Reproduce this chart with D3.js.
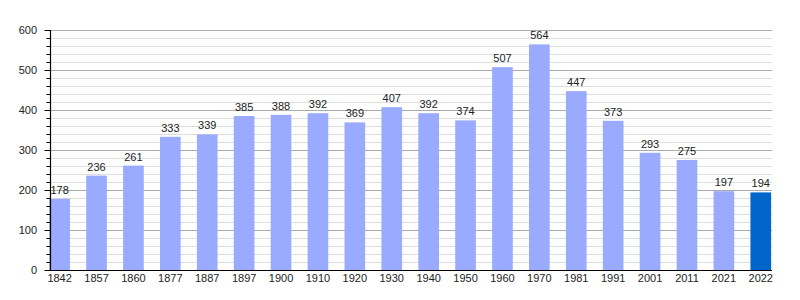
<!DOCTYPE html>
<html>
<head>
<meta charset="utf-8">
<script src="https://cdn.jsdelivr.net/npm/d3@7"></script>
<style>
  body { margin: 0; background: #fff; }
  text { font-family: "Liberation Sans", Arial, sans-serif; font-size: 11px; fill: #222; }
</style>
</head>
<body>
<svg id="chart" width="800" height="300"></svg>
<script>
// data
var years = ["1842","1857","1860","1877","1887","1897","1900","1910","1920","1930",
             "1940","1950","1960","1970","1981","1991","2001","2011","2021","2022"];
var population = [178,236,261,333,339,385,388,392,369,407,
                  392,374,507,564,447,373,293,275,197,194];
var yTicks = [0,100,200,300,400,500,600];

var svg = d3.select("#chart");
// plot box (window.top is reserved, so use own names)
var plotLeft = 50, plotRight = 772, plotTop = 30, plotBottom = 270;

var x = d3.scaleBand()
  .domain(years)
  .range([49.3, 771.1])
  .paddingInner(0.44)
  .paddingOuter(0);

var y = d3.scaleLinear().domain([0, 600]).range([plotBottom, plotTop]);

// --- grid ---
var minor = d3.range(0, 601, 20);
svg.append("g").selectAll("line")
  .data(minor.filter(function(d){ return d % 100 != 0; }))
  .enter().append("line")
  .attr("x1", plotLeft).attr("x2", plotRight)
  .attr("y1", function(d){ return Math.round(y(d)) + 0.5; })
  .attr("y2", function(d){ return Math.round(y(d)) + 0.5; })
  .style("stroke", "#dddddd");

svg.append("g").selectAll("line")
  .data(yTicks.slice(1))
  .enter().append("line")
  .attr("x1", plotLeft).attr("x2", plotRight)
  .attr("y1", function(d){ return Math.round(y(d)) + 0.5; })
  .attr("y2", function(d){ return Math.round(y(d)) + 0.5; })
  .style("stroke", "#aaaaaa");

// --- bars ---
svg.append("g").selectAll("rect")
  .data(population)
  .enter().append("rect")
  .attr("x", function(d, i){ return x(years[i]); })
  .attr("width", x.bandwidth())
  .attr("y", function(d){ return y(d); })
  .attr("height", function(d){ return plotBottom - y(d); })
  .attr("fill", function(d, i){ return i == years.length - 1 ? "#0066cc" : "#99aaff"; });

// value labels
svg.append("g").selectAll("text")
  .data(population)
  .enter().append("text")
  .attr("x", function(d, i){ return x(years[i]) + x.bandwidth() / 2; })
  .attr("y", function(d){ return y(d) - 5; })
  .attr("text-anchor", "middle")
  .text(function(d){ return d; });

// --- axes ---
var yAxis = d3.axisLeft(y).tickValues(minor).tickSize(4).tickFormat("");
var ga = svg.append("g").attr("transform", "translate(" + (plotLeft + 0.5) + ",0)").call(yAxis);
ga.select(".domain").remove();
ga.selectAll("line")
  .attr("x2", function(d){ return d % 100 == 0 ? -6 : -4; })
  .style("stroke", "#000");

svg.append("g").selectAll("text")
  .data(yTicks)
  .enter().append("text")
  .attr("x", 37)
  .attr("y", function(d){ return y(d) + 4; })
  .attr("text-anchor", "end")
  .text(function(d){ return d; });

svg.append("line")
  .attr("x1", plotLeft + 0.5).attr("x2", plotLeft + 0.5)
  .attr("y1", plotTop).attr("y2", plotBottom + 1)
  .style("stroke", "#000").style("stroke-width", 1.2);
svg.append("line")
  .attr("x1", plotLeft).attr("x2", plotRight)
  .attr("y1", plotBottom + 0.5).attr("y2", plotBottom + 0.5)
  .style("stroke", "#000").style("stroke-width", 1.2);

// year labels
svg.append("g").selectAll("text")
  .data(years)
  .enter().append("text")
  .attr("x", function(d){ return x(d) + x.bandwidth() / 2; })
  .attr("y", 282)
  .attr("text-anchor", "middle")
  .text(function(d){ return d; });
</script>
</body>
</html>
